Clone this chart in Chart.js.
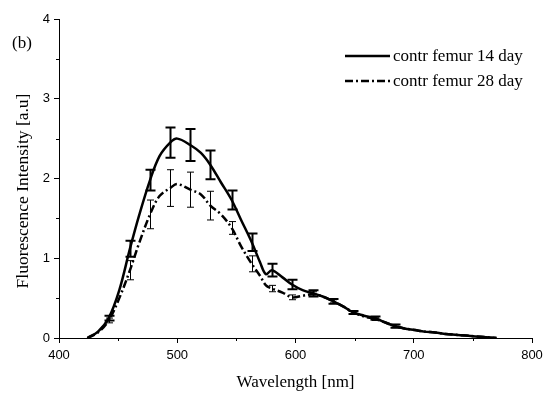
<!DOCTYPE html>
<html>
<head>
<meta charset="utf-8">
<script src="https://cdn.jsdelivr.net/npm/chart.js@4.4.0/dist/chart.umd.min.js"></script>
<style>
  html, body { margin: 0; padding: 0; background: #fff; }
  #wrap { position: relative; width: 544px; height: 393px; }
</style>
</head>
<body>
<div id="wrap"><canvas id="spec" width="544" height="393"></canvas></div>
<script>
// wavelength samples (nm)
const wavelengths = [424, 433, 442, 451, 460, 468, 477, 485, 494, 500, 511, 520, 528, 537, 546, 554, 563, 570, 575, 580, 589, 597, 606, 615, 623, 632, 641, 649, 658, 667, 675, 684, 692, 701, 709, 718, 727, 735, 744, 752, 761, 770];
const day14 = [0, 0.08, 0.25, 0.6, 1.12, 1.55, 1.98, 2.28, 2.45, 2.5, 2.42, 2.32, 2.17, 1.95, 1.73, 1.48, 1.2, 0.95, 0.8, 0.85, 0.76, 0.67, 0.6, 0.56, 0.52, 0.46, 0.39, 0.32, 0.28, 0.25, 0.2, 0.15, 0.12, 0.1, 0.08, 0.07, 0.05, 0.04, 0.03, 0.02, 0.01, 0];
const day28 = [0, 0.07, 0.22, 0.5, 0.85, 1.2, 1.55, 1.78, 1.88, 1.93, 1.86, 1.8, 1.66, 1.55, 1.38, 1.15, 0.93, 0.78, 0.66, 0.62, 0.57, 0.51, 0.53, 0.55, 0.52, 0.46, 0.39, 0.32, 0.27, 0.24, 0.2, 0.15, 0.12, 0.1, 0.08, 0.07, 0.05, 0.04, 0.03, 0.02, 0.01, 0];

// error bars (at a subset of wavelengths)
const errWl = [442, 460, 477, 494, 511, 528, 546, 563, 580, 597, 615, 632, 649, 667, 684];
const err14 = [0.03, 0.1, 0.13, 0.19, 0.2, 0.18, 0.12, 0.11, 0.08, 0.06, 0.04, 0.03, 0.02, 0.02, 0.02];
const err28 = [0.03, 0.12, 0.18, 0.23, 0.22, 0.18, 0.08, 0.1, 0.04, 0.03, 0.03, 0.02, 0.02, 0.02, 0.02];

const label14 = 'contr femur 14 day';
const label28 = 'contr femur 28 day';
const yTitle = 'Fluorescence Intensity [a.u]';

const serif = '"Liberation Serif", "Times New Roman", serif';
const sans = '"Liberation Sans", Arial, sans-serif';

function pts(ys) {
  return wavelengths.map((w, i) => ({ x: w, y: ys[i] }));
}
function valueAt(ys, w) {
  let best = 0;
  wavelengths.forEach((v, k) => { if (Math.abs(v - w) < Math.abs(wavelengths[best] - w)) best = k; });
  return ys[best];
}

const extras = {
  id: 'extras',
  afterDatasetsDraw(chart) {
    const ctx = chart.ctx;
    const xs = chart.scales.x, ys = chart.scales.y;
    ctx.save();
    ctx.strokeStyle = '#000';
    // error bars
    const drawBars = (vals, errs, lw, cap) => {
      ctx.lineWidth = lw;
      errWl.forEach((w, i) => {
        const v = valueAt(vals, w);
        const px = Math.round(xs.getPixelForValue(w)) + 0.5;
        const top = ys.getPixelForValue(v + errs[i]);
        const bot = ys.getPixelForValue(Math.max(0, v - errs[i]));
        ctx.beginPath();
        ctx.moveTo(px, top); ctx.lineTo(px, bot);
        ctx.moveTo(px - cap, top); ctx.lineTo(px + cap, top);
        ctx.moveTo(px - cap, bot); ctx.lineTo(px + cap, bot);
        ctx.stroke();
      });
    };
    drawBars(day28, err28, 1, 3.5);
    drawBars(day14, err14, 2, 5);

    // minor ticks
    ctx.lineWidth = 1;
    ctx.beginPath();
    for (let w = 450; w < 800; w += 100) {
      const px = Math.round(xs.getPixelForValue(w)) + 0.5;
      ctx.moveTo(px, ys.bottom); ctx.lineTo(px, ys.bottom + 3);
    }
    for (let v = 0.5; v < 4; v += 1) {
      const py = Math.round(ys.getPixelForValue(v)) + 0.5;
      ctx.moveTo(xs.left, py); ctx.lineTo(xs.left - 3, py);
    }
    ctx.stroke();

    // legend
    ctx.fillStyle = '#000';
    ctx.font = '17px ' + serif;
    ctx.textBaseline = 'middle';
    ctx.textAlign = 'left';
    const ds = chart.data.datasets;
    [[ds[0], 56], [ds[1], 81]].forEach(([d, y]) => {
      ctx.lineWidth = d.borderWidth;
      ctx.setLineDash(d.borderDash || []);
      ctx.beginPath();
      ctx.moveTo(345, y); ctx.lineTo(390, y);
      ctx.stroke();
      ctx.setLineDash([]);
      ctx.fillText(d.label, 393, y + 1);
    });

    // panel label
    ctx.font = '17px ' + serif;
    ctx.fillText('(b)', 12, 44);

    // y axis title
    ctx.translate(23, 191);
    ctx.rotate(-Math.PI / 2);
    ctx.textAlign = 'center';
    ctx.font = '17.5px ' + serif;
    ctx.fillText(yTitle, 0, 0);
    ctx.restore();
  }
};

new Chart(document.getElementById('spec'), {
  type: 'line',
  data: {
    datasets: [
      { label: label14, data: pts(day14), borderColor: '#000', borderWidth: 2.5, pointRadius: 0, tension: 0.35, fill: false },
      { label: label28, data: pts(day28), borderColor: '#000', borderWidth: 2.5, borderDash: [8, 3, 2, 3], pointRadius: 0, tension: 0.35, fill: false }
    ]
  },
  options: {
    responsive: false,
    animation: false,
    layout: { padding: { top: 19, right: 12, left: 0, bottom: 0 } },
    plugins: { legend: { display: false }, tooltip: { enabled: false } },
    scales: {
      x: {
        type: 'linear', min: 400, max: 800,
        ticks: { stepSize: 100, color: '#000', font: { family: sans, size: 13 }, padding: 5, maxRotation: 0 },
        grid: { drawOnChartArea: false, drawTicks: true, tickLength: 5, color: '#000' },
        border: { color: '#000', width: 1 },
        title: { display: true, text: 'Wavelength [nm]', color: '#000', font: { family: serif, size: 17 }, padding: { top: 5, bottom: 0 } },
        afterFit(s) { s.height = 55; s.paddingLeft = 0; s.paddingRight = 0; }
      },
      y: {
        min: 0, max: 4,
        ticks: { stepSize: 1, color: '#000', font: { family: sans, size: 13 }, padding: 4 },
        grid: { drawOnChartArea: false, drawTicks: true, tickLength: 5, color: '#000' },
        border: { color: '#000', width: 1 },
        afterFit(s) { s.width = 59; s.paddingTop = 0; s.paddingBottom = 0; }
      }
    }
  },
  plugins: [extras]
});
</script>
</body>
</html>
